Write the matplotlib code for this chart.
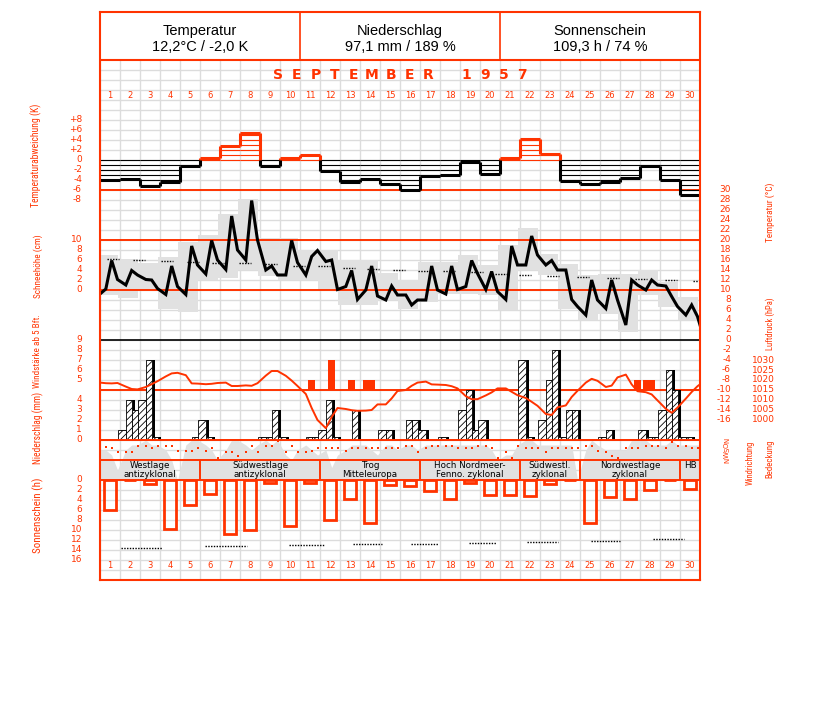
import numpy as np
import matplotlib
matplotlib.use("Agg")
import matplotlib.pyplot as plt
from matplotlib import font_manager
from matplotlib.font_manager import FontProperties
from matplotlib.ft2font import FT2Font

# ---------------- data (September 1957) ----------------
days = np.arange(1, 31)
hours = [7, 14, 21]  # observation terms

# daily temperature anomaly (K)
anomaly = [-4.0, -3.7, -5.1, -4.3, -1.2, 0.5, 2.9, 5.5, -1.2, 0.5,
           1.1, -2.1, -4.4, -3.7, -4.8, -6.0, -3.1, -2.9, -0.3, -2.8,
           0.4, 4.3, 1.3, -4.1, -4.8, -4.4, -3.5, -1.2, -3.9, -6.9]

# temperature at 7, 14, 21 h (deg C)
temp_terms = [10.2, 15.9, 12.1, 11.0, 13.9, 13.0, 12.1, 12.0, 10.3,
              9.1, 14.8, 10.7, 9.1, 18.8, 15.0, 13.2, 19.9, 16.0,
              14.1, 24.8, 18.0, 16.0, 27.9, 20.0, 14.0, 14.8, 13.0,
              13.0, 19.9, 15.5, 13.0, 16.7, 17.9, 15.7, 16.0, 10.1,
              10.7, 13.9, 8.1, 10.0, 14.8, 8.8, 8.0, 10.8, 9.0,
              9.0, 7.0, 8.0, 8.0, 14.8, 10.0, 9.2, 14.8, 10.1,
              10.7, 15.9, 13.3, 10.1, 13.7, 9.7, 8.1, 18.8, 15.0,
              15.0, 20.8, 17.0, 15.0, 15.9, 14.0, 14.0, 8.1, 6.7,
              5.0, 12.0, 8.0, 6.3, 12.0, 8.0, 3.0, 12.0, 11.0,
              10.0, 12.0, 11.0, 10.8, 8.7, 6.7, 5.0, 7.0, 4.7]
temp_before, temp_after = 9.2, 3.0

tmax = [17.1, 16.3, 15.5, 16.7, 19.7, 21.1, 25.2, 28.3, 20.5, 20.5,
        18.0, 18.0, 16.1, 16.1, 13.5, 12.0, 15.7, 15.7, 17.0, 15.0,
        19.0, 22.5, 17.2, 15.2, 13.0, 13.2, 13.2, 14.0, 11.7, 8.7]
tmin = [9.0, 8.5, 10.0, 6.3, 5.7, 12.0, 12.5, 14.0, 12.9, 12.0,
        12.0, 10.0, 7.0, 7.0, 8.0, 6.3, 7.7, 9.3, 9.3, 9.0,
        6.0, 14.0, 13.0, 6.3, 4.0, 5.3, 1.7, 9.0, 6.7, 4.0]

# long-term mean temperature (dotted marks)
norm_t_day = [0.85, 2.15, 3.55, 4.85, 6.1, 7.45, 8.75, 10.15, 11.4, 12.65,
              13.85, 15.15, 16.4, 17.65, 19.05, 20.25, 21.45, 22.85, 24.35,
              25.85, 27.25, 28.75, 30.15]
norm_t = [16.3, 16.1, 15.9, 15.7, 15.5, 15.4, 15.2, 14.9, 14.8, 14.5,
          14.3, 14.1, 13.9, 13.8, 13.6, 13.3, 13.1, 12.9, 12.7, 12.5,
          12.3, 12.1, 11.9]

# air pressure at 7, 14, 21 h (hPa)
pressure = [1018.4, 1018.3, 1018.5, 1016.7, 1015.5, 1015.3, 1016.5, 1017.9, 1019.4,
            1021.8, 1023.3, 1023.6, 1022.4, 1018.3, 1018.2, 1017.9, 1018.1, 1018.5,
            1018.7, 1017.0, 1017.0, 1017.3, 1017.1, 1018.4, 1022.2, 1024.5, 1024.5,
            1022.1, 1019.7, 1017.0, 1013.0, 1006.0, 1000.0, 995.9, 1001.5, 1006.0,
            1005.5, 1004.9, 1004.6, 1004.7, 1005.0, 1007.8, 1007.8, 1010.8, 1014.5,
            1015.0, 1017.1, 1018.7, 1019.2, 1017.8, 1017.7, 1017.5, 1016.9, 1015.8,
            1011.9, 1010.4, 1010.4, 1012.3, 1013.8, 1015.8, 1015.8, 1014.1, 1012.4,
            1011.0, 1009.1, 1007.1, 1003.0, 1002.5, 1006.3, 1007.3, 1011.5, 1014.6,
            1018.7, 1020.6, 1019.6, 1016.5, 1017.2, 1021.3, 1022.7, 1017.8, 1014.4,
            1013.9, 1012.8, 1009.8, 1005.6, 1003.6, 1006.2, 1010.7, 1014.0, 1016.9]
pressure_before, pressure_after = 1018.7, 1017.8

# wind force >= 5 Bft
wind_day = [11, 12, 13, 14, 14, 27, 28, 28]
wind_hour = [14, 14, 14, 7, 14, 21, 7, 14]
wind_bft = [5, 7, 5, 5, 5, 5, 5, 5]

# precipitation per term interval (mm)
prec_day = [2, 2, 2, 3, 3, 3, 5, 6, 6, 9, 9, 9, 10, 11, 11, 12, 12, 12, 13,
            15, 15, 16, 16, 17, 18, 19, 19, 19, 20, 22, 22, 23, 23, 23, 24,
            24, 24, 26, 26, 28, 28, 28, 29, 29, 29, 30, 30]
prec_hour = [7, 14, 21, 7, 14, 21, 21, 7, 14, 7, 14, 21, 7, 14, 21, 7, 14, 21, 21,
             7, 14, 14, 21, 7, 7, 7, 14, 21, 7, 7, 14, 7, 14, 21, 7,
             14, 21, 7, 14, 7, 14, 21, 7, 14, 21, 7, 14]
prec_mm = [1.0, 4.0, 3.0, 4.0, 8.0, 0.3, 0.3, 2.0, 0.3, 0.3, 0.3, 3.0, 0.3, 0.3,
           0.3, 1.0, 4.0, 0.3, 3.0, 1.0, 1.0, 2.0, 2.0, 1.0, 0.3, 3.0, 5.0, 1.0,
           2.0, 8.0, 0.3, 2.0, 6.0, 9.0, 0.3, 3.0, 3.0, 0.3, 1.0, 1.0, 0.3, 0.3,
           3.0, 7.0, 5.0, 0.3, 0.3]

# wind direction (deg) at 7, 14, 21 h
wind_dir = [121, 139, 221, 221, 221, 108, 108, 139, 108, 108, 108, 193,
            193, 193, 139, 193, 139, 319, 221, 221, 283, 221, 108, 221,
            108, 108, 18, 221, 108, 221, 221, 193, 139, 139, 139, 139,
            193, 139, 139, 139, 139, 139, 139, 139, 139, 108, 108, 221,
            139, 108, 108, 108, 108, 139, 139, 139, 108, 108, 139, 319,
            221, 319, 108, 139, 139, 139, 221, 139, 139, 139, 139, 139,
            108, 108, 193, 221, 283, 319, 139, 139, 139, 108, 108, 108,
            139, 41, 108, 108, 139, 139]

# cloud cover (octas) at 7, 14, 21 h
cloud = [6, 5, 2, 6, 7, 7, 8, 7, 7, 6, 4, 0, 7, 8, 8, 7, 6, 4,
         6, 8, 8, 7, 6, 7, 8, 7, 8, 5, 4, 6, 7, 6, 5, 6, 2.5, 5,
         6, 7, 7, 7, 6, 5, 7, 7, 6, 7, 7, 6, 7, 7, 7, 7, 7, 7,
         7, 7, 7, 7, 6, 4, 5, 5, 7, 8, 8, 7, 7, 7, 7, 7, 7, 0,
         6, 8, 7, 6, 6, 6, 6, 8, 8, 8, 7, 7, 7, 8, 7, 7, 7, 7]

# Grosswetterlagen
wt_names = ["Westlage\nantizyklonal", "Südwestlage\nantizyklonal",
            "Trog\nMitteleuropa", "Hoch Nordmeer-\nFenno. zyklonal",
            "Südwestl.\nzyklonal", "Nordwestlage\nzyklonal", "HB"]
wt_first = [1, 6, 12, 17, 22, 25, 30]
wt_last = [5, 11, 16, 21, 24, 29, 30]

# sunshine duration (h)
sunshine = [6.0, 0, 0.7, 9.7, 5.0, 2.7, 10.8, 10.0, 0.5, 9.1,
            0.5, 7.9, 3.8, 8.5, 0.9, 1.1, 2.2, 3.8, 0.5, 2.9,
            2.9, 3.1, 0.8, 0, 8.5, 3.3, 3.7, 1.9, 0, 1.7]
sun_norm_start = [1.54, 5.75, 9.97, 13.14, 16.04, 18.97, 21.84, 25.04, 28.14]
sun_norm_end = [3.59, 7.84, 11.7, 14.59, 17.42, 20.3, 23.42, 26.5, 29.7]
sun_norm = [13.5, 13.2, 13.0, 12.8, 12.7, 12.5, 12.3, 12.1, 11.8]

side_titles = ["Temperaturabweichung (K)", "Schneehöhe (cm)", "Windstärke ab 5 Bft.",
               "Niederschlag (mm)", "Sonnenschein (h)", "Temperatur (°C)",
               "Luftdruck (hPa)", "Windrichtung", "Bedeckung"]

# ---------------- styling ----------------
RED = '#ff3300'
GRAY = '#e1e1e1'
GRID = '#dcdcdc'
fonts = font_manager.fontManager.ttflist
names = {f.name for f in fonts}
SANS = 'Liberation Sans' if 'Liberation Sans' in names else 'DejaVu Sans'
plt.rcParams['hatch.linewidth'] = 0.6

W, H = 827, 702
fig = plt.figure(figsize=(W / 100, H / 100), dpi=100)
renderer = fig.canvas.get_renderer()

# the rotated axis titles use the narrowest regular Latin sans font installed
need = {ord(c) for c in "".join(side_titles)} - {ord(' ')}
families = ('Liberation Sans', 'DejaVu Sans', 'Noto Sans', 'Roboto', 'Open Sans',
            'Lato', 'Inter')
NARROW = FontProperties(family=SANS, size=10)
best_w = None
for f in fonts:
    if not f.name.startswith(families) or f.style != 'normal':
        continue
    if f.weight not in (400, 'normal', 'regular'):
        continue
    if any(k in f.name for k in ('CJK', 'Mono', 'Math', 'Symbol', 'Serif', 'Display')):
        continue
    try:
        if not need.issubset(FT2Font(f.fname).get_charmap()):
            continue
        fp = FontProperties(fname=f.fname, size=10)
        w = renderer.get_text_width_height_descent("Temperaturabweichung", fp, ismath=False)[0]
    except Exception:
        continue
    if w > 0 and (best_w is None or w < best_w):
        best_w, NARROW = w, fp


def panel(x0, y0, x1, y1, z=2):
    '''axes placed by pixel box (top-left origin)'''
    ax = fig.add_axes([x0 / W, 1 - y1 / H, (x1 - x0) / W, (y1 - y0) / H], zorder=z)
    ax.set_facecolor('none')
    ax.set_xlim(0.5, 30.5)
    ax.axis('off')
    return ax


def ylabels(ax, values, labels, xpix, ha='right'):
    for v, s in zip(values, labels):
        ax.text((xpix - 100) / 600, v, s, transform=ax.get_yaxis_transform(),
                ha=ha, va='center', color=RED, fontsize=6.5, clip_on=False)


def side_label(x, y0, y1, s):
    '''rotated axis title, sized to span from y0 to y1 (pixels)'''
    fp = NARROW.copy()
    fp.set_size(8)
    t = fig.text(x / W, 1 - (y0 + y1) / 2 / H, s, rotation=90, ha='center',
                 va='center', color=RED, fontproperties=fp)
    h = t.get_window_extent(renderer).height
    if h > 0:
        t.set_fontsize(min(11, 8 * (y1 - y0) / h))


term_x = np.array([d - 0.5 + h / 24 for d in days for h in hours])
def tpos(d, h):
    return d - 0.5 + h / 24

# background grid
grid = panel(100, 60, 700, 580, z=0)
grid.set_facecolor('white')
grid.set_ylim(52, 0)
grid.vlines(np.arange(0.5, 31), 0, 52, color=GRID, lw=1)
grid.hlines(np.arange(1, 52), 0.5, 30.5, color=GRID, lw=1)
for i, ch in enumerate("SEPTEMBER 1957"):
    grid.text(9.4 + 0.94 * i, 1.5, ch, ha='center', va='center', color=RED,
              fontsize=10, fontweight='bold', family='DejaVu Sans')
for d in days:
    grid.text(d, 3.6, str(d), ha='center', va='center', color=RED, fontsize=6)
    grid.text(d, 50.6, str(d), ha='center', va='center', color=RED, fontsize=6)

# frame and header
frame = fig.add_axes([100 / W, 1 - 580 / H, 600 / W, 568 / H], zorder=10)
frame.set_facecolor('none')
frame.set_xlim(100, 700)
frame.set_ylim(580, 12)
frame.set_xticks([])
frame.set_yticks([])
for sp in frame.spines.values():
    sp.set_color(RED)
    sp.set_linewidth(1.5)
frame.hlines(60, 100, 700, color=RED, lw=1.5)
frame.vlines([300, 500], 12, 60, color=RED, lw=1.2)
header = [("Temperatur", "12,2°C / -2,0 K"), ("Niederschlag", "97,1 mm / 189 %"),
          ("Sonnenschein", "109,3 h / 74 %")]
for k, (a, b) in enumerate(header):
    frame.text(200 + 200 * k, 31, a, ha='center', va='center', fontsize=10.5, family=SANS)
    frame.text(200 + 200 * k, 47, b, ha='center', va='center', fontsize=10.5, family=SANS)

# temperature anomaly
axa = panel(100, 100, 700, 200, z=3)
axa.set_ylim(-8, 12)
axa.axhline(-6, color=RED, lw=1.4, zorder=1)
for d, v in zip(days, anomaly):
    col = RED if v > 0 else 'black'
    levels = np.arange(0, v, 1 if v > 0 else -1)
    axa.hlines(levels, d - 0.5, d + 0.5, color=col, lw=0.8, zorder=2)
    axa.hlines(v, d - 0.5, d + 0.5, color=col, lw=2.2, zorder=3)
for d in days[:-1]:
    a, b = sorted([anomaly[d - 1], anomaly[d]])
    if b > 0:
        axa.vlines(d + 0.5, max(a, 0), b, color=RED, lw=2.2, zorder=3)
    if a < 0:
        axa.vlines(d + 0.5, a, min(b, 0), color='black', lw=2.2, zorder=3)
ylabels(axa, range(8, -9, -2), ['+8', '+6', '+4', '+2', '0', '-2', '-4', '-6', '-8'], 82)

# temperature
axt = panel(100, 190, 700, 340, z=2)
axt.set_ylim(0, 30)
axt.bar(days - 0.125, np.array(tmax) - np.array(tmin), bottom=tmin, width=1,
        color=GRAY, zorder=1)
axt.axhline(20, color=RED, lw=1.4, zorder=2)
axt.axhline(10, color=RED, lw=1.4, zorder=2)
axt.axhline(0, color='black', lw=1.2, zorder=2, clip_on=False)
axt.hlines(norm_t, norm_t_day, np.array(norm_t_day) + 0.6, color='black',
           lw=1, linestyles=(0, (1, 1)), zorder=2)
axt.plot(np.r_[0.5, term_x, 30.5], np.r_[temp_before, temp_terms, temp_after],
         color='black', lw=2.2, zorder=4, solid_joinstyle='miter')
ylabels(axt, range(30, -1, -2), [str(v) for v in range(30, -1, -2)], 731)
axs = panel(100, 190, 700, 340, z=1)
axs.set_ylim(-10, 20)
ylabels(axs, range(10, -1, -2), [str(v) for v in range(10, -1, -2)], 82)

# wind, precipitation, pressure
axw = panel(100, 340, 700, 440, z=3)
axw.set_ylim(-1, 9)
wx = [tpos(d, h) for d, h in zip(wind_day, wind_hour)]
axw.bar(wx, np.array(wind_bft) - 4, bottom=4, width=1 / 3, color=RED, zorder=2)
axw.axhline(4, color=RED, lw=1.4, zorder=1)
ylabels(axw, [9, 8, 7, 6, 5], ['9', '8', '7', '6', '5'], 82)

axr = panel(100, 340, 700, 440, z=4)
axr.set_ylim(0, 10)
prev_x = np.r_[tpos(0, 21), term_x[:-1]]
for d, h, mm in zip(prec_day, prec_hour, prec_mm):
    k = (d - 1) * 3 + hours.index(h)
    left, right = prev_x[k], term_x[k]
    axr.bar(left + 0.15, mm, width=right - left, align='edge', color='black',
            zorder=1)
    axr.bar(left, mm, width=right - left, align='edge', facecolor='white',
            edgecolor='black', hatch='/////', lw=0.6, zorder=2)
axr.axhline(0, color=RED, lw=1.4, zorder=3, clip_on=False)
ylabels(axr, [4, 3, 2, 1, 0], ['4', '3', '2', '1', '0'], 82)

axp = panel(100, 340, 700, 440, z=5)
axp.set_ylim(990, 1040)
axp.plot(np.r_[0.5, term_x, 30.5], np.r_[pressure_before, pressure, pressure_after],
         color=RED, lw=1.4, zorder=3)
ylabels(axp, range(1030, 999, -5), [str(v) for v in range(1030, 999, -5)], 775)
axt2 = panel(100, 340, 700, 440, z=1)
axt2.set_ylim(-20, 0)
ylabels(axt2, range(-2, -17, -2), [str(v) for v in range(-2, -17, -2)], 731)

# cloud cover, weather types
axc = panel(100, 440, 700, 480, z=2)
axc.set_ylim(0, 8)
axc.fill_between(np.r_[0.5, term_x, 30.5], np.r_[cloud[0], cloud, cloud[-1]], 0,
                 color=GRAY, lw=0, zorder=1)
axc.axhline(8, color=RED, lw=1.4, zorder=3, clip_on=False)
axc.axhline(4, color=RED, lw=1.4, zorder=3)
axc.axhline(0, color=RED, lw=1.4, zorder=3, clip_on=False)
axc.vlines([f - 0.5 for f in wt_first[1:]], 0, 4, color=RED, lw=1.4, zorder=3)
for name, f, l in zip(wt_names, wt_first, wt_last):
    yy = 2 if '\n' in name else 3
    axc.text((f + l) / 2, yy, name, ha='center', va='center', fontsize=6.3,
             linespacing=0.95, zorder=4)

axd = panel(100, 440, 700, 460, z=3)
axd.set_ylim(360, 0)
axd.scatter(term_x, wind_dir, marker='s', s=4, color=RED, linewidths=0, zorder=3)
for v, s in zip([0, 90, 180, 270, 360], 'NOSWN'):
    axd.text((727 - 100) / 600, v, s, transform=axd.get_yaxis_transform(), rotation=90,
             ha='center', va='center', color=RED, fontsize=5, clip_on=False)

# sunshine
axsun = panel(100, 480, 700, 580, z=3)
axsun.set_ylim(20, 0)
axsun.bar(days, sunshine, width=0.62, fill=False, edgecolor=RED, lw=2, zorder=2)
axsun.hlines(sun_norm, sun_norm_start, sun_norm_end, color='black', lw=1,
             linestyles=(0, (1, 1)), zorder=2)
ylabels(axsun, range(0, 17, 2), [str(v) for v in range(0, 17, 2)], 82)

# axis titles
spans = [(36, 103, 207), (38, 235, 298), (38, 315, 388), (38, 392, 464),
         (38, 478, 553), (770, 183, 242), (770, 297, 350), (750, 440, 485),
         (770, 440, 478)]
for (x, y0, y1), s in zip(spans, side_titles):
    side_label(x, y0, y1, s)

fig.savefig("out.png", dpi=100)
